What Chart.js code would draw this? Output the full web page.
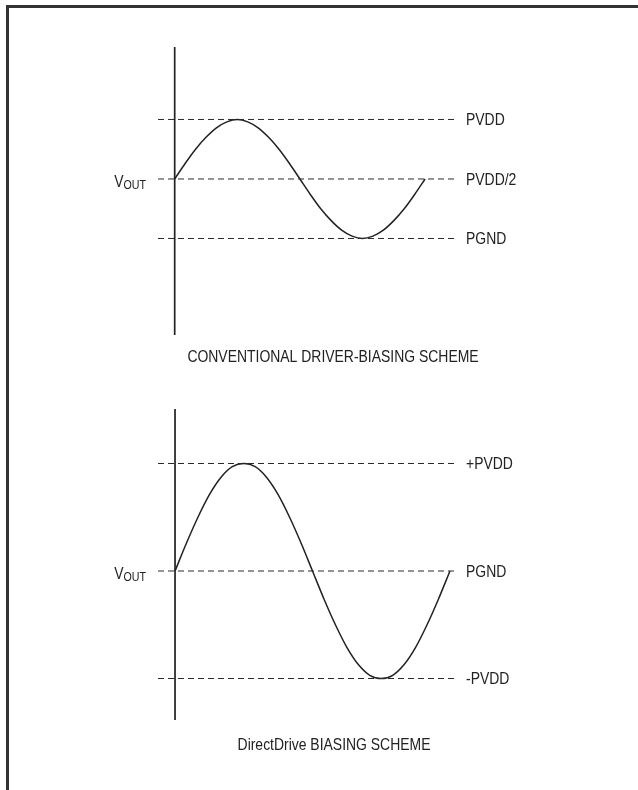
<!DOCTYPE html>
<html>
<head>
<meta charset="utf-8">
<script src="https://cdn.jsdelivr.net/npm/chart.js@4"></script>
<style>
    html, body { margin: 0; padding: 0; background: #fff; }
    body { width: 638px; height: 790px; position: relative; overflow: hidden; }
    #frame {
        position: absolute; left: 6px; top: 5px; width: 700px; height: 900px;
        border-left: 3px solid #333; border-top: 3px solid #333;
    }
    .panel { position: absolute; left: 0; width: 638px; }
    #topWrap { top: 0; height: 390px; }
    #bottomWrap { top: 390px; height: 400px; }
</style>
</head>
<body>
<div id="frame"></div>
<div class="panel" id="topWrap"><canvas id="topChart" width="638" height="390"></canvas></div>
<div class="panel" id="bottomWrap"><canvas id="bottomChart" width="638" height="400"></canvas></div>

<script>
// phase along the time axis, degrees (one full cycle)
const phase = [0, 15, 30, 45, 60, 75, 90, 105, 120, 135, 150, 165, 180,
               195, 210, 225, 240, 255, 270, 285, 300, 315, 330, 345, 360];

// conventional scheme, output in units of PVDD
const convLevels = [1, 0.5, 0];
const convNames = ["PVDD", "PVDD/2", "PGND"];
const convOut = [0.5, 0.63, 0.75, 0.85, 0.93, 0.98, 1, 0.98, 0.93, 0.85, 0.75, 0.63, 0.5,
                 0.37, 0.25, 0.15, 0.07, 0.02, 0, 0.02, 0.07, 0.15, 0.25, 0.37, 0.5];

// DirectDrive scheme, output in units of PVDD
const ddLevels = [1, 0, -1];
const ddNames = ["+PVDD", "PGND", "-PVDD"];
const ddOut = [0, 0.26, 0.5, 0.71, 0.87, 0.97, 1, 0.97, 0.87, 0.71, 0.5, 0.26, 0,
               -0.26, -0.5, -0.71, -0.87, -0.97, -1, -0.97, -0.87, -0.71, -0.5, -0.26, 0];

const FONT = "'Liberation Sans', Arimo, Arial, sans-serif";
const SQUEEZE = 0.82; // condensed look of the original lettering
const INK = "#222";

function narrowText(ctx, text, x, y, size) {
    ctx.save();
    ctx.font = size + "px " + FONT;
    ctx.translate(x, y);
    ctx.scale(SQUEEZE, 1);
    ctx.fillText(text, 0, 0);
    ctx.restore();
}

function narrowWidth(ctx, text, size) {
    ctx.save();
    ctx.font = size + "px " + FONT;
    const w = ctx.measureText(text).width * SQUEEZE;
    ctx.restore();
    return w;
}

// level names, V_OUT and caption
const labelPlugin = {
    id: "schemeLabels",
    afterDraw(chart, args, opts) {
        const ctx = chart.ctx;
        const y = chart.scales.y;
        ctx.save();
        ctx.fillStyle = INK;
        ctx.textBaseline = "middle";
        ctx.textAlign = "left";
        opts.levels.forEach((v, i) => {
            narrowText(ctx, opts.names[i], opts.nameX, y.getPixelForValue(v) + 1, 17);
        });

        // V with OUT subscript
        const midY = y.getPixelForValue(opts.mid);
        ctx.textBaseline = "alphabetic";
        const wV = narrowWidth(ctx, "V", 17);
        const wO = narrowWidth(ctx, "OUT", 13);
        const x0 = 146 - wV - wO;
        narrowText(ctx, "V", x0, midY + 8, 17);
        narrowText(ctx, "OUT", x0 + wV, midY + 10, 13);

        ctx.textAlign = "center";
        ctx.textBaseline = "middle";
        narrowText(ctx, opts.caption, opts.captionX, opts.captionY, 17);
        ctx.restore();
    }
};

function makeScheme(canvasId, levels, names, out, box) {
    const datasets = [];
    // vertical axis
    datasets.push({
        data: [{ x: 0, y: box.yMin }, { x: 0, y: box.yMax }],
        borderColor: INK, borderWidth: 1.7, pointRadius: 0, tension: 0
    });
    // dashed reference levels
    levels.forEach(v => {
        datasets.push({
            data: [{ x: box.xMin, y: v }, { x: box.xMax, y: v }],
            borderColor: "#2a2a2a", borderWidth: 1, borderDash: [6, 4],
            pointRadius: 0, tension: 0
        });
    });
    // output waveform
    datasets.push({
        data: phase.map((p, i) => ({ x: p, y: out[i] })),
        borderColor: INK, borderWidth: 1.5, pointRadius: 0,
        cubicInterpolationMode: "monotone"
    });

    return new Chart(document.getElementById(canvasId), {
        type: "line",
        data: { datasets: datasets },
        options: {
            responsive: false,
            animation: false,
            layout: { padding: box.padding },
            plugins: {
                legend: { display: false },
                tooltip: { enabled: false },
                schemeLabels: {
                    levels: levels, names: names, mid: box.mid, nameX: 466,
                    caption: box.caption, captionX: box.captionX, captionY: box.captionY
                }
            },
            scales: {
                x: { type: "linear", display: false, min: box.xMin, max: box.xMax },
                y: { type: "linear", display: false, min: box.yMin, max: box.yMax }
            }
        },
        plugins: [labelPlugin]
    });
}

makeScheme("topChart", convLevels, convNames, convOut, {
    xMin: -24, xMax: 403, yMin: -0.811, yMax: 1.609, mid: 0.5,
    padding: { left: 158, right: 183, top: 47, bottom: 55 },
    caption: "CONVENTIONAL DRIVER-BIASING SCHEME", captionX: 333, captionY: 357
});

makeScheme("bottomChart", ddLevels, ddNames, ddOut, {
    xMin: -22.3, xMax: 369.2, yMin: -1.386, yMax: 1.507, mid: 0,
    padding: { left: 158, right: 181, top: 19, bottom: 70 },
    caption: "DirectDrive BIASING SCHEME", captionX: 334, captionY: 355
});
</script>
</body>
</html>
